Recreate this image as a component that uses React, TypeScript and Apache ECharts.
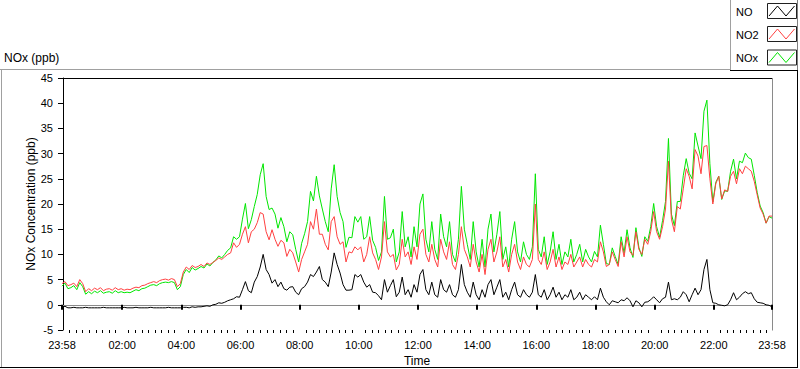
import React, { useEffect, useRef } from "react";
import * as echarts from "echarts";

// Sampling: first sample at 23:58 of the previous day, one sample every 6 minutes
const startMinute = -2;
const stepMinutes = 6;

const noValues = [
  -0.5, -0.3, -0.6, -0.6, -0.5, -0.6, -0.6, -0.6, -0.5, -0.6, -0.6, -0.6, -0.6, -0.6, -0.5, -0.6, -0.6, -0.6, -0.6, -0.6,
  -0.6, -0.5, -0.6, -0.6, -0.6, -0.5, -0.6, -0.6, -0.6, -0.6, -0.5, -0.6, -0.6, -0.6, -0.6, -0.6, -0.5, -0.6, -0.6, -0.6,
  -0.6, -0.5, -0.5, -0.6, -0.4, -0.5, -0.4, -0.4, -0.3, -0.2, -0.3, 0.0, 0.1, 0.4, 0.3, 0.5, 0.8, 1.0, 1.2, 1.6,
  1.5, 3.0, 4.6, 2.8, 2.4, 4.5, 5.6, 7.5, 10.0, 7.0, 6.0, 4.3, 5.0, 3.6, 4.5, 3.2, 2.9, 3.5, 3.6, 2.5,
  2.0, 3.2, 3.6, 4.5, 6.0, 5.6, 6.5, 7.6, 5.0, 4.5, 3.6, 6.5, 10.3, 8.0, 6.3, 4.0, 2.9, 2.9, 3.0, 6.0,
  5.5, 6.0, 4.5, 3.5, 4.0, 2.5, 2.4, 1.8, 1.0, 5.0, 2.5, 3.8, 5.0, 1.6, 2.5, 5.5, 2.0, 3.0, 1.5, 4.0,
  2.5, 6.0, 7.0, 3.0, 2.0, 4.5, 2.0, 1.5, 5.0, 3.0, 2.5, 4.0, 2.0, 1.5, 3.0, 8.0, 4.0, 2.5, 1.5, 4.5,
  2.0, 1.0, 3.0, 1.5, 4.0, 5.0, 2.0, 3.5, 5.0, 1.5, 2.5, 1.0, 3.0, 4.5, 2.0, 1.5, 3.0, 2.0, 1.5, 2.5,
  6.0, 2.0, 1.5, 3.0, 1.0, 2.0, 3.5, 1.5, 2.5, 1.0, 2.0, 1.5, 3.0, 1.0, 1.5, 2.5, 1.0, 2.0, 1.5, 1.0,
  1.6, 1.0, 3.3, 1.5, 0.6, 0.0, 0.8, 0.6, 0.4, 1.0, 0.8, 1.4, 0.8, -0.4, 0.8, 0.4, -0.4, 0.5, 0.6, 1.0,
  1.6, 1.0, 0.4, 1.2, 1.5, 4.5, 1.0, 1.2, 1.0, 1.5, 2.6, 2.0, 0.6, 2.0, 3.3, 2.0, 3.0, 7.0, 9.0, 3.0,
  0.4, 0.3, 0.0, -0.1, -0.2, 0.0, 1.0, 2.4, 1.0, 1.5, 2.2, 2.6, 2.2, 2.4, 1.2, 0.5, 0.4, 0.3, 0.0, -0.1,
  -0.4,
];

const no2Values = [
  4.2, 4.6, 3.8, 4.0, 4.3, 3.6, 5.0, 4.2, 2.6, 3.2, 2.8, 3.3, 3.0, 3.4, 2.8, 3.1, 3.2, 2.9, 3.4, 3.0,
  3.2, 2.9, 3.1, 3.0, 3.3, 3.5, 3.4, 3.8, 3.9, 4.2, 4.4, 4.6, 4.4, 4.8, 5.0, 5.1, 4.9, 5.2, 5.0, 3.6,
  4.2, 6.5, 7.5, 7.0, 7.8, 7.4, 7.6, 8.0, 7.6, 8.3, 8.0, 8.4, 8.8, 9.3, 9.0, 9.5, 10.0, 10.3, 12.3, 11.4,
  12.0, 14.0, 15.5, 12.3, 14.5, 15.0, 16.3, 18.3, 18.0, 14.5, 12.9, 14.9, 13.0, 11.6, 12.8, 12.3, 9.6, 11.0, 10.3, 8.5,
  6.5, 9.0, 10.5, 12.0, 16.5, 15.0, 19.0, 14.0, 14.0, 12.0, 10.9, 16.5, 17.5, 13.5, 12.0, 12.5, 8.5, 10.5, 10.3, 11.5,
  10.9, 11.5, 8.5, 10.0, 13.5, 10.3, 9.0, 7.0, 9.5, 16.5, 10.5, 9.5, 10.0, 6.9, 8.0, 13.0, 9.5, 10.5, 8.0, 11.5,
  9.0, 14.0, 15.0, 10.0, 8.5, 12.0, 9.0, 7.5, 13.0, 10.5, 9.0, 12.5, 8.0, 7.0, 10.0, 15.5, 11.0, 9.5, 7.5, 12.0,
  8.5, 6.5, 10.0, 6.0, 11.0, 13.0, 8.5, 10.5, 13.5, 7.5, 9.0, 6.5, 10.0, 12.0, 8.5, 7.0, 9.5, 8.0, 7.5, 9.0,
  20.0, 9.0, 8.0, 10.5, 7.0, 8.5, 11.0, 7.5, 9.5, 7.0, 8.5, 8.0, 10.0, 7.5, 8.5, 9.5, 7.5, 9.0, 8.0, 7.5,
  9.0, 8.5, 12.5, 10.5, 7.6, 8.0, 10.5, 9.0, 7.6, 12.5, 9.5, 13.5, 10.5, 9.8, 14.5, 11.0, 10.0, 13.0, 12.0, 14.5,
  18.5, 14.5, 13.0, 15.5, 19.0, 28.5, 17.0, 14.5, 19.5, 19.0, 23.0, 27.0, 25.5, 23.0, 30.8, 29.5, 26.0, 31.4, 31.6, 25.0,
  20.0, 24.0, 25.5, 21.0, 22.8, 22.5, 25.5, 26.5, 24.0, 27.0, 26.0, 27.5, 27.0, 26.5, 24.5, 21.8, 19.2, 18.0, 16.2, 17.6,
  17.6,
];

const noxValues = [
  3.7, 4.3, 3.2, 3.4, 3.8, 3.0, 4.4, 3.6, 2.1, 2.6, 2.2, 2.7, 2.4, 2.8, 2.3, 2.5, 2.6, 2.3, 2.8, 2.4,
  2.6, 2.4, 2.5, 2.4, 2.7, 3.0, 2.8, 3.2, 3.3, 3.6, 3.9, 4.0, 3.8, 4.2, 4.4, 4.5, 4.4, 4.6, 4.4, 3.0,
  3.6, 6.0, 7.0, 6.4, 7.4, 6.9, 7.2, 7.6, 7.3, 8.1, 7.7, 8.4, 8.9, 9.7, 9.3, 10.0, 10.8, 11.3, 13.5, 13.0,
  13.5, 17.0, 20.1, 15.1, 16.9, 19.5, 21.9, 25.8, 28.0, 21.5, 18.9, 19.2, 18.0, 15.2, 17.3, 15.5, 12.5, 14.5, 13.9, 11.0,
  8.5, 12.2, 14.1, 16.5, 22.5, 20.6, 25.5, 21.6, 19.0, 16.5, 14.5, 23.0, 27.8, 21.5, 18.3, 16.5, 11.4, 13.4, 13.3, 17.5,
  16.4, 17.5, 13.0, 13.5, 17.5, 12.8, 11.4, 8.8, 10.5, 21.5, 13.0, 13.3, 15.0, 8.5, 10.5, 18.5, 11.5, 13.5, 9.5, 15.5,
  11.5, 20.0, 22.0, 13.0, 10.5, 16.5, 11.0, 9.0, 18.0, 13.5, 11.5, 16.5, 10.0, 8.5, 13.0, 23.5, 15.0, 12.0, 9.0, 16.5,
  10.5, 7.5, 13.0, 7.5, 15.0, 18.0, 10.5, 14.0, 18.5, 9.0, 11.5, 7.5, 13.0, 16.5, 10.5, 8.5, 12.5, 10.0, 9.0, 11.5,
  26.0, 11.0, 9.5, 13.5, 8.0, 10.5, 14.5, 9.0, 12.0, 8.0, 10.5, 9.5, 13.0, 8.5, 10.0, 12.0, 8.5, 11.0, 9.5, 8.5,
  10.6, 9.5, 15.8, 12.0, 8.2, 8.0, 11.3, 9.6, 8.0, 13.5, 10.3, 14.9, 11.3, 9.4, 15.3, 11.4, 9.6, 13.5, 12.6, 15.5,
  20.1, 15.5, 13.4, 16.7, 20.5, 33.0, 18.0, 15.7, 20.5, 20.5, 25.6, 29.0, 26.1, 25.0, 34.1, 31.5, 29.0, 38.4, 40.6, 28.0,
  20.4, 24.3, 25.5, 20.9, 22.6, 22.5, 26.5, 28.9, 25.0, 28.5, 28.2, 30.1, 29.2, 28.9, 25.7, 22.3, 19.6, 18.3, 16.2, 17.5,
  17.2,
];

// Axis: minutes from midnight; labelled ticks
const xMajorTicks = [-2, 120, 240, 360, 480, 600, 720, 840, 960, 1080, 1200, 1320, 1438];
const xMin = -2;
const xMax = 1438;
const yMin = -5;
const yMax = 45;
const yStep = 5;

const seriesNames = ["NO", "NO2", "NOx"];
const seriesColors = ["#000000", "#ff4040", "#00e600"];

const FONT = "'Liberation Sans', Arial, sans-serif";

function fmtTime(v: number): string {
  const m = ((Math.round(v) % 1440) + 1440) % 1440;
  const hh = Math.floor(m / 60);
  const mm = m % 60;
  return String(hh).padStart(2, "0") + ":" + String(mm).padStart(2, "0");
}

export default function App() {
  const ref = useRef<HTMLDivElement | null>(null);

  useEffect(() => {
    document.body.style.margin = "0";
    if (!ref.current) return;
    const chart = echarts.init(ref.current, undefined, { renderer: "svg" });

    const times = noValues.map((_, i) => startMinute + i * stepMinutes);
    const toData = (vals: number[]) => vals.map((v, i) => [times[i], v]);

    // minor tick positions: 9 subdivisions per 2-hour major interval
    const minorStep = 120 / 9;
    const xMinorTicks: number[] = [];
    for (let k = 0; k * minorStep <= xMax; k++) {
      const v = k * minorStep;
      const nearMajor = xMajorTicks.some((m) => Math.abs(m - v) < 3);
      if (!nearMajor && v > xMin && v < xMax) xMinorTicks.push(v);
    }

    const valueSets = [noValues, no2Values, noxValues];
    const order = [2, 1, 0];
    const series = order.map((idx) => ({
      name: seriesNames[idx],
      type: "line",
      xAxisIndex: 0,
      yAxisIndex: 0,
      data: toData(valueSets[idx]),
      showSymbol: false,
      symbol: "none",
      lineStyle: { color: seriesColors[idx], width: 1 },
      itemStyle: { color: seriesColors[idx] },
      silent: true,
    }));

    const legendItems: any[] = [];
    const legendRowY = [13.5, 36.5, 59.5];
    const boxTop = [3.5, 26.5, 50];
    seriesNames.forEach((name, i) => {
      legendItems.push({
        type: "text",
        left: 736,
        top: legendRowY[i] - 7,
        style: { text: name, fill: "#000", font: `11px ${FONT}` },
      });
      legendItems.push({
        type: "rect",
        shape: { x: 767.5, y: boxTop[i], width: 29, height: 15 },
        style: { fill: "#fff", stroke: "#202020", lineWidth: 1 },
      });
      legendItems.push({
        type: "polyline",
        shape: {
          points: [
            [769, boxTop[i] + 12.5],
            [777.5, boxTop[i] + 2.5],
            [786, boxTop[i] + 12.5],
            [794.5, boxTop[i] + 2.5],
          ],
        },
        style: { stroke: seriesColors[i], lineWidth: 1, fill: "none" },
      });
    });

    const option: any = {
      animation: false,
      backgroundColor: "#ffffff",
      grid: { left: 62, right: 28, top: 78, bottom: 39, containLabel: false, outerBoundsMode: "none" },
      xAxis: [
        {
          type: "value",
          min: xMin,
          max: xMax,
          position: "bottom",
          axisLine: { show: true, lineStyle: { color: "#8a8a8a", width: 1 } },
          axisTick: {
            show: true,
            customValues: xMajorTicks,
            length: 5,
            lineStyle: { color: "#000", width: 2 },
          },
          axisLabel: {
            customValues: xMajorTicks,
            formatter: (v: number) => fmtTime(v),
            color: "#000",
            fontFamily: FONT,
            fontSize: 11,
            margin: 9,
          },
          splitLine: { show: false },
          name: "Time",
          nameLocation: "middle",
          nameGap: 25,
          nameMoveOverlap: false,
          nameTextStyle: { color: "#000", fontFamily: FONT, fontSize: 12 },
        },
        {
          type: "value",
          min: xMin,
          max: xMax,
          position: "bottom",
          gridIndex: 0,
          axisLine: { show: false },
          axisTick: {
            show: true,
            customValues: xMinorTicks,
            length: 3,
            lineStyle: { color: "#000", width: 1 },
          },
          axisLabel: { show: false },
          splitLine: { show: false },
        },
      ],
      yAxis: {
        type: "value",
        min: yMin,
        max: yMax,
        interval: yStep,
        axisLine: { show: true, lineStyle: { color: "#000", width: 1 } },
        axisTick: { show: true, length: 5, lineStyle: { color: "#000" } },
        axisLabel: { color: "#000", fontFamily: FONT, fontSize: 11, margin: 9 },
        splitLine: { show: false },
        name: "NOx Concentration (ppb)",
        nameLocation: "middle",
        nameGap: 25,
        nameRotate: 90,
        nameMoveOverlap: false,
        nameTextStyle: { color: "#000", fontFamily: FONT, fontSize: 12 },
      },
      series,
      graphic: [
        // outer panel frame
        { type: "line", shape: { x1: 0, y1: 69.5, x2: 731, y2: 69.5 }, style: { stroke: "#a0a0a0", lineWidth: 1 } },
        { type: "line", shape: { x1: 1.5, y1: 69, x2: 1.5, y2: 368 }, style: { stroke: "#a0a0a0", lineWidth: 1 } },
        { type: "line", shape: { x1: 0, y1: 367.5, x2: 798, y2: 367.5 }, style: { stroke: "#000", lineWidth: 1 } },
        { type: "line", shape: { x1: 797.5, y1: 0, x2: 797.5, y2: 368 }, style: { stroke: "#000", lineWidth: 1 } },
        // plot frame (top & right)
        { type: "line", shape: { x1: 62, y1: 78.5, x2: 772, y2: 78.5 }, style: { stroke: "#000", lineWidth: 1 } },
        { type: "line", shape: { x1: 772.5, y1: 78, x2: 772.5, y2: 330.5 }, style: { stroke: "#8a8a8a", lineWidth: 1 } },
        // axis caption
        {
          type: "text",
          left: 4,
          top: 52,
          style: { text: "NOx (ppb)", fill: "#000", font: `12px ${FONT}` },
        },
        // legend panel
        { type: "rect", shape: { x: 730.5, y: -1, width: 67, height: 71.5 }, style: { fill: "#fff", stroke: "none" } },
        { type: "line", shape: { x1: 730.5, y1: 0, x2: 730.5, y2: 71 }, style: { stroke: "#a0a0a0", lineWidth: 1 } },
        { type: "line", shape: { x1: 730, y1: 70.5, x2: 798, y2: 70.5 }, style: { stroke: "#000", lineWidth: 1 } },
        ...legendItems,
      ],
    };

    chart.setOption(option);
    return () => chart.dispose();
  }, []);

  return <div ref={ref} style={{ width: 800, height: 369 }} />;
}
